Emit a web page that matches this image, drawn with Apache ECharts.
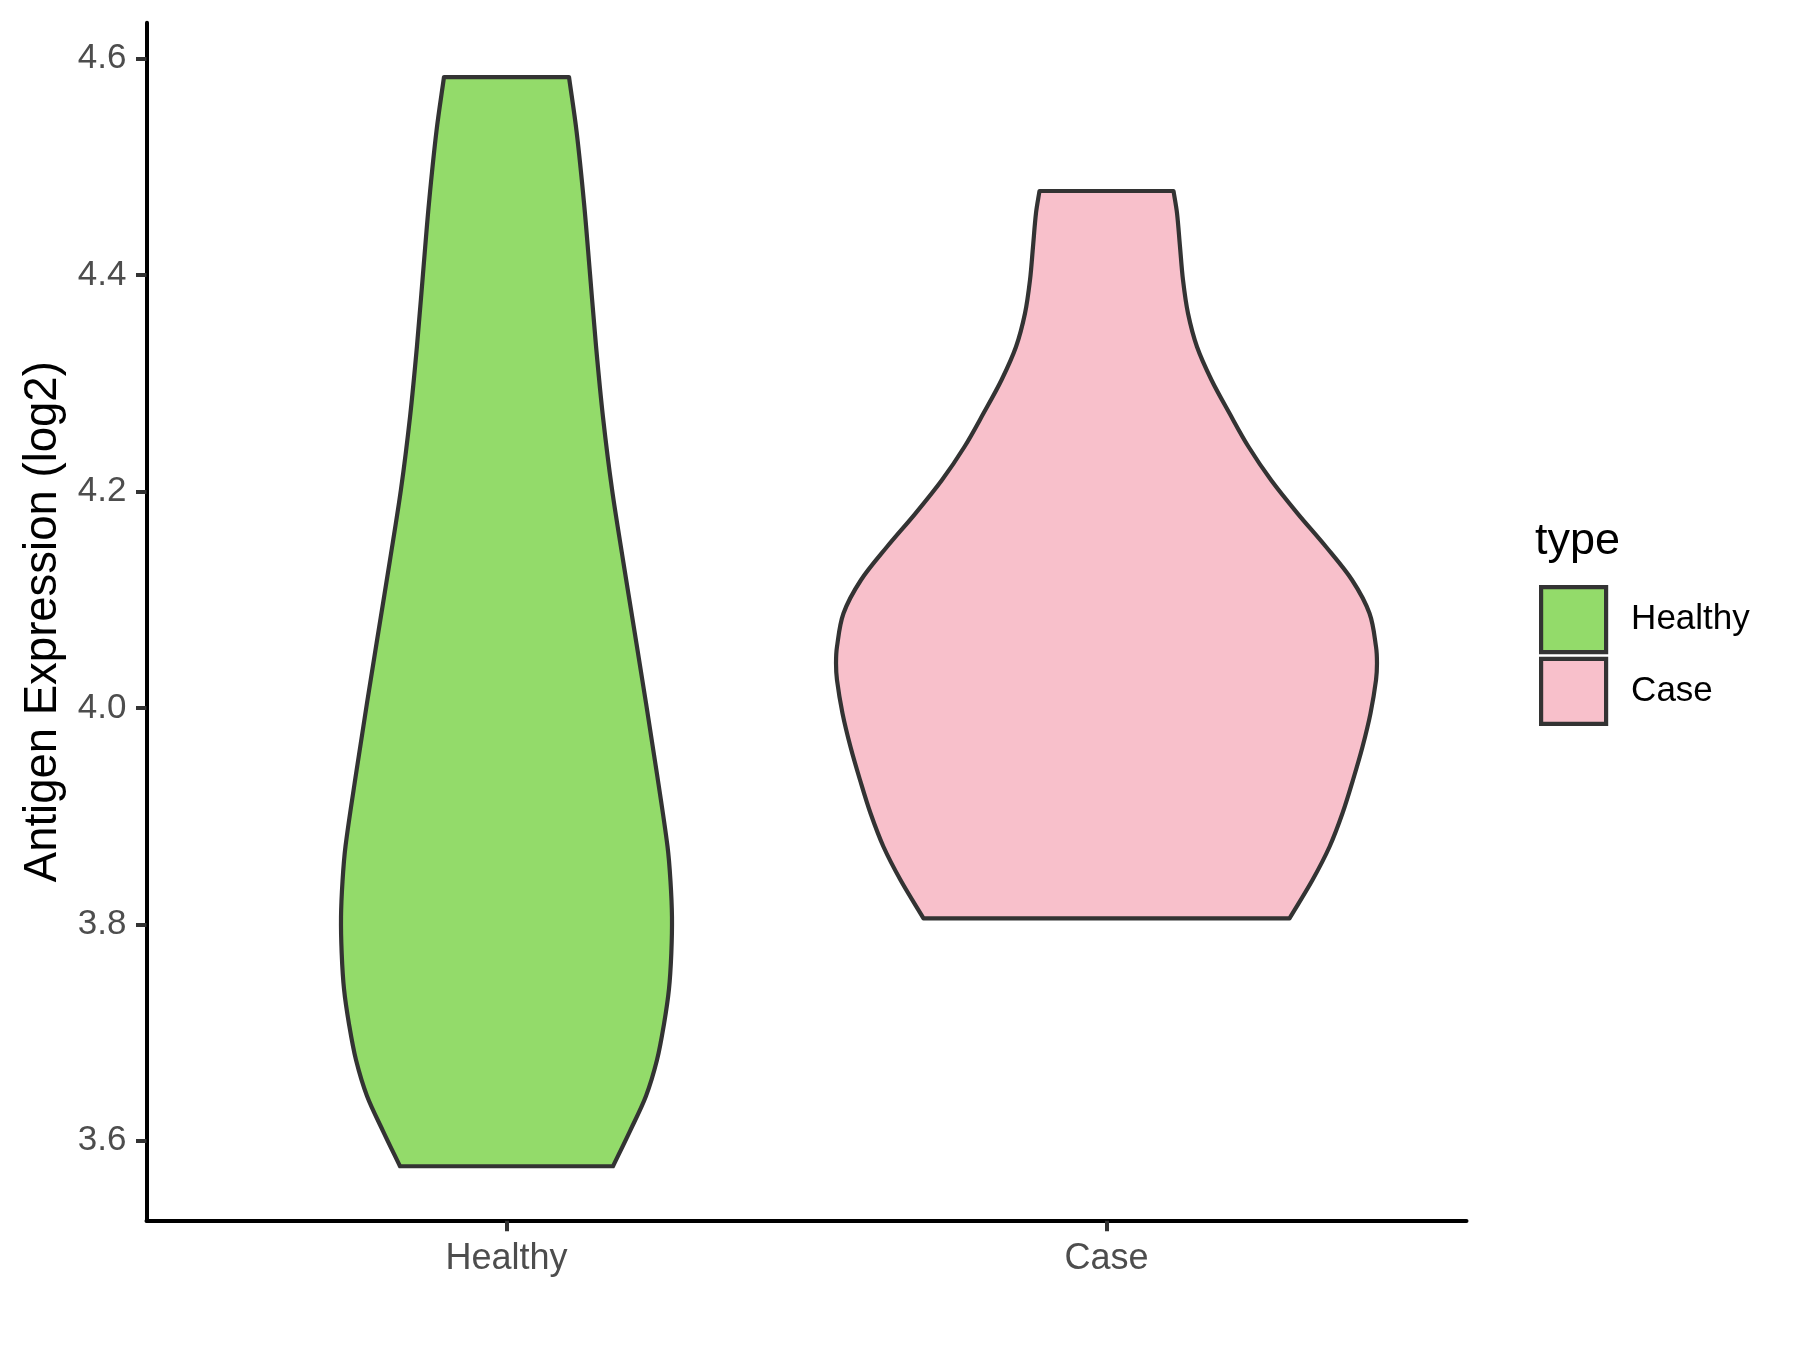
<!DOCTYPE html>
<html>
<head>
<meta charset="utf-8">
<script src="https://cdn.jsdelivr.net/npm/echarts@6/dist/echarts.min.js"></script>
<style>
  html, body { margin: 0; padding: 0; background: #ffffff; }
  #chart { width: 1800px; height: 1350px; }
</style>
</head>
<body>
<div id="chart"></div>
<script>
// ---- data ----
const categories = ['Healthy', 'Case'];
const fillColors = ['#93DB6A', '#F8C0CB'];
const yTicks = [3.6, 3.8, 4.0, 4.2, 4.4, 4.6];

// violin outline: expression values (top to bottom) and half-widths (in category units)
const healthyY = [4.5828, 4.5330, 4.4665, 4.4009, 4.3344, 4.2688, 4.2022, 4.1366, 4.0710, 4.0045,
                  3.9389, 3.8723, 3.8400, 3.8068, 3.7735, 3.7402, 3.7079, 3.6746, 3.6414, 3.6090, 3.5765];
const healthyHalfWidth = [0.1042, 0.1167, 0.1292, 0.1392, 0.1492, 0.1608, 0.1758, 0.1942, 0.2133, 0.2325,
                          0.2508, 0.2683, 0.2733, 0.2758, 0.2747, 0.2708, 0.2625, 0.2508, 0.2325, 0.2058, 0.1775];

const caseY = [4.4776, 4.4573, 4.4261, 4.3953, 4.3646, 4.3337, 4.3030, 4.2722, 4.2413, 4.2106, 4.1798,
               4.1489, 4.1182, 4.0874, 4.0565, 4.0412, 4.0258, 3.9950, 3.9641, 3.9334, 3.9026, 3.8717,
               3.8410, 3.8056];
const caseHalfWidth = [0.1117, 0.1175, 0.1225, 0.1275, 0.1358, 0.1508, 0.1750, 0.2050, 0.2367, 0.2742, 0.3183,
                       0.3658, 0.4092, 0.4383, 0.4492, 0.4508, 0.4492, 0.4400, 0.4267, 0.4108, 0.3933, 0.3717,
                       0.3433, 0.3050];

const profiles = [
  { y: healthyY, hw: healthyHalfWidth },
  { y: caseY, hw: caseHalfWidth }
];

// ---- drawing ----
const FONT = "'Liberation Sans', Arial, Helvetica, sans-serif";
const OUTLINE = '#333333';
const LW = 4.2;

// Cubic Hermite curve x(y) through pixel points (handles uneven spacing), as Bezier commands.
function curveThrough(pts) {
  const n = pts.length;
  const m = new Array(n);
  for (let i = 0; i < n; i++) {
    const a = pts[Math.max(i - 1, 0)];
    const b = pts[Math.min(i + 1, n - 1)];
    m[i] = (b[0] - a[0]) / (b[1] - a[1]);
  }
  let d = '';
  for (let i = 0; i < n - 1; i++) {
    const p1 = pts[i], p2 = pts[i + 1];
    const h = p2[1] - p1[1];
    const c1x = p1[0] + m[i] * h / 3, c1y = p1[1] + h / 3;
    const c2x = p2[0] - m[i + 1] * h / 3, c2y = p2[1] - h / 3;
    d += ' C' + c1x.toFixed(2) + ',' + c1y.toFixed(2) + ' ' + c2x.toFixed(2) + ',' + c2y.toFixed(2) +
         ' ' + p2[0].toFixed(2) + ',' + p2[1].toFixed(2);
  }
  return d;
}

function makeViolinSeries(idx) {
  return {
    name: categories[idx],
    type: 'custom',
    coordinateSystem: 'cartesian2d',
    itemStyle: { color: fillColors[idx], borderColor: OUTLINE, borderWidth: LW },
    data: [[idx + 1, profiles[idx].y[0]]],
    encode: { x: 0, y: 1 },
    silent: true,
    renderItem: function (params, api) {
      const c = api.value(0);
      const prof = profiles[idx];
      const right = prof.y.map((v, k) => api.coord([c + prof.hw[k], v]));
      const left = prof.y.map((v, k) => api.coord([c - prof.hw[k], v])).reverse();
      let d = 'M' + right[0][0].toFixed(2) + ',' + right[0][1].toFixed(2);
      d += curveThrough(right);
      d += ' L' + left[0][0].toFixed(2) + ',' + left[0][1].toFixed(2);
      d += curveThrough(left);
      d += ' Z';
      return {
        type: 'path',
        shape: { pathData: d },
        style: { fill: fillColors[idx], stroke: OUTLINE, lineWidth: LW, lineJoin: 'round' }
      };
    }
  };
}

const chart = echarts.init(document.getElementById('chart'), null, { renderer: 'canvas' });
chart.setOption({
  animation: false,
  backgroundColor: '#ffffff',
  textStyle: { fontFamily: FONT },
  grid: { left: 146.5, right: 333.5, top: 22.7, bottom: 129.3, containLabel: false },
  title: {
    text: 'type',
    left: 1535,
    top: 519,
    padding: 0,
    textStyle: { fontFamily: FONT, fontSize: 45, fontWeight: 'normal', color: '#000000' }
  },
  legend: {
    orient: 'vertical',
    left: 1539,
    top: 585,
    padding: 0,
    icon: 'rect',
    itemWidth: 65,
    itemHeight: 65,
    itemGap: 2.5,
    selectedMode: false,
    data: categories.map((c, i) => ({
      name: c,
      itemStyle: { color: fillColors[i], borderColor: OUTLINE, borderWidth: LW }
    })),
    textStyle: { fontFamily: FONT, fontSize: 35, color: '#000000', padding: [2, 0, 0, 20] }
  },
  xAxis: {
    type: 'value',
    min: 0.4,
    max: 2.6,
    splitLine: { show: false },
    axisLine: { show: true, onZero: false, lineStyle: { color: '#000000', width: 4 } },
    axisTick: { show: true, length: 10.5, customValues: [1, 2], lineStyle: { color: OUTLINE, width: 4 } },
    axisLabel: {
      show: true,
      customValues: [1, 2],
      margin: 20,
      fontFamily: FONT,
      fontSize: 36,
      color: '#4D4D4D',
      formatter: function (v) { return categories[Math.round(v) - 1] || ''; }
    }
  },
  yAxis: {
    type: 'value',
    min: 3.5262,
    max: 4.6331,
    name: 'Antigen Expression (log2)',
    nameLocation: 'middle',
    nameGap: 79,
    nameTextStyle: { fontFamily: FONT, fontSize: 45.5, color: '#000000' },
    splitLine: { show: false },
    axisLine: { show: true, onZero: false, lineStyle: { color: '#000000', width: 4 } },
    axisTick: { show: true, length: 10.5, customValues: yTicks, lineStyle: { color: OUTLINE, width: 4 } },
    axisLabel: {
      show: true,
      customValues: yTicks,
      margin: 20,
      fontFamily: FONT,
      fontSize: 35,
      color: '#4D4D4D',
      formatter: function (v) { return Number(v).toFixed(1); }
    }
  },
  series: [makeViolinSeries(0), makeViolinSeries(1)]
});
</script>
</body>
</html>
